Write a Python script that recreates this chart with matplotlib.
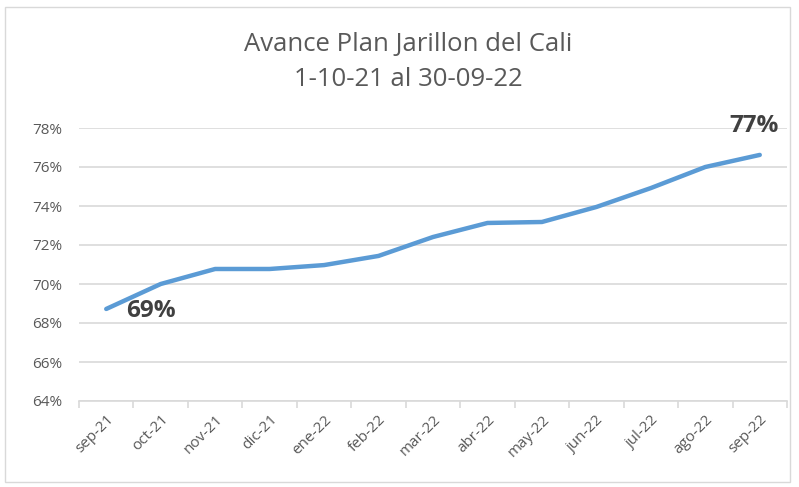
import matplotlib
matplotlib.use('agg')
from matplotlib import pyplot as plt
from matplotlib.patches import Rectangle
import numpy as np

# data
months = ['sep-21', 'oct-21', 'nov-21', 'dic-21', 'ene-22', 'feb-22', 'mar-22',
          'abr-22', 'may-22', 'jun-22', 'jul-22', 'ago-22', 'sep-22']
avance = [68.72, 70.0, 70.77, 70.77, 70.97, 71.44, 72.41,
          73.13, 73.18, 73.95, 74.92, 76.0, 76.62]
yticks = [64, 66, 68, 70, 72, 74, 76, 78]

plt.rcParams['font.family'] = ['Open Sans', 'DejaVu Sans']
txt = '#595959'

fig = plt.figure(figsize=(7.99, 4.87), dpi=100)
fig.patches.append(Rectangle((5/799, 5/487), 785/799, 475/487, transform=fig.transFigure,
                             fill=False, edgecolor='#d9d9d9', lw=1))

ax = fig.add_axes([79/799, 1 - 401/487, (787 - 79)/799, (401 - 128)/487])
x = np.arange(len(months))
ax.plot(x, avance, color='#5b9bd5', lw=3.2, solid_capstyle='round')

ax.set_xlim(-0.5, len(months) - 0.5)
ax.set_ylim(64, 78)
ax.set_yticks(yticks)
ax.set_yticklabels([f'{v}%' for v in yticks], color=txt, fontsize=11)
ax.tick_params(axis='y', length=0, pad=12)
ax.grid(axis='y', color='#d9d9d9', lw=1.2)
ax.set_axisbelow(True)

ax.set_xticks(x)
ax.set_xticklabels(months, rotation=45, ha='right', rotation_mode='anchor',
                   color=txt, fontsize=11)
ax.tick_params(axis='x', length=0, pad=8)
ax.set_xticks(np.arange(len(months) + 1) - 0.5, minor=True)
ax.tick_params(axis='x', which='minor', length=5, color='#d9d9d9', width=1.2)

for s in ['top', 'right', 'left']:
    ax.spines[s].set_visible(False)
ax.spines['bottom'].set_color('#d9d9d9')
ax.spines['bottom'].set_linewidth(1.2)

ax.annotate('69%', (x[0], avance[0]), xytext=(14, -1.5), textcoords='offset points',
            ha='left', va='center', fontsize=17.5, fontweight='bold', color='#404040')
ax.annotate('77%', (x[-1], avance[-1]), xytext=(-4, 21), textcoords='offset points',
            ha='center', va='center', fontsize=17.5, fontweight='bold', color='#404040')

fig.text(408/799, 1 - 45/487, 'Avance Plan Jarillon del Cali', ha='center', va='center',
         fontsize=18.5, color=txt)
fig.text(408/799, 1 - 80/487, '1-10-21 al 30-09-22', ha='center', va='center',
         fontsize=18.5, color=txt)

fig.savefig('out.png', dpi=100)
